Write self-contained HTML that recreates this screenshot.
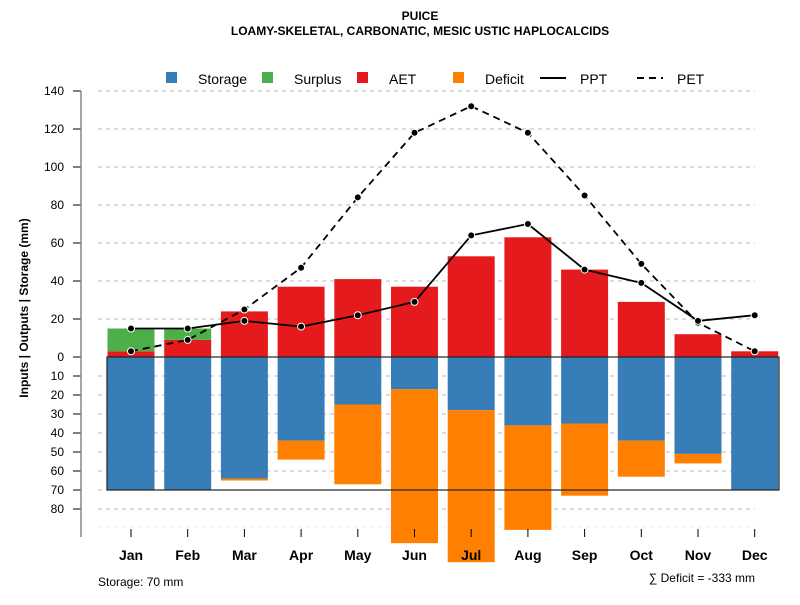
<!DOCTYPE html>
<html><head><meta charset="utf-8"><style>body{margin:0;background:#fff}svg{font-family:"Liberation Sans",sans-serif}</style></head>
<body>
<svg id="c" width="800" height="600">
<text x="420" y="20" text-anchor="middle" font-size="12" font-weight="bold">PUICE</text>
<text x="420" y="35" text-anchor="middle" font-size="12" font-weight="bold">LOAMY-SKELETAL, CARBONATIC, MESIC USTIC HAPLOCALCIDS</text>
<g id="grid"></g><g id="bars"></g><g id="lines"></g><g id="axes"></g>
<text x="28" y="308" transform="rotate(-90 28 308)" text-anchor="middle" font-size="12" font-weight="bold">Inputs | Outputs | Storage    (mm)</text>
<text x="98" y="586" font-size="12">Storage: 70 mm</text>
<text x="755" y="582" text-anchor="end" font-size="12">∑ Deficit = -333 mm</text>
<g font-size="14">
<rect x="166" y="72" width="11" height="11" fill="#377EB8"/><text x="198" y="84">Storage</text>
<rect x="262" y="72" width="11" height="11" fill="#4DAF4A"/><text x="294" y="84">Surplus</text>
<rect x="357" y="72" width="11" height="11" fill="#E41A1C"/><text x="389" y="84">AET</text>
<rect x="453" y="72" width="11" height="11" fill="#FF7F00"/><text x="485" y="84">Deficit</text>
<line x1="540" y1="78" x2="566" y2="78" stroke="#000" stroke-width="2"/><text x="580" y="84">PPT</text>
<line x1="637" y1="78" x2="663" y2="78" stroke="#000" stroke-width="2" stroke-dasharray="7,5"/><text x="677" y="84">PET</text>
</g>
</svg>
<script>
const months=["Jan","Feb","Mar","Apr","May","Jun","Jul","Aug","Sep","Oct","Nov","Dec"];
const ppt=[15,15,19,16,22,29,64,70,46,39,19,22];
const pet=[3,9,25,47,84,118,132,118,85,49,18,3];
const aet=[3,9,24,37,41,37,53,63,46,29,12,3];
const surplus=[12,6,0,0,0,0,0,0,0,0,0,0];
const storage=[70,70,64,44,25,17,28,36,35,44,51,70];
const deficit=[0,0,1,10,42,81,80,55,38,19,5,0];
const upTicks=[0,20,40,60,80,100,120,140];
const downTicks=[10,20,30,40,50,60,70,80];
const NS="http://www.w3.org/2000/svg";
const y=v=>357-v*1.9, x=i=>131+i*56.7;
function mk(t,a,p){const e=document.createElementNS(NS,t);for(const k in a)e.setAttribute(k,a[k]);document.getElementById(p).appendChild(e);return e;}
upTicks.forEach(v=>{if(v>0){const g=mk('line',{x1:98,x2:755,y1:y(v),y2:y(v),stroke:'#bbb','stroke-dasharray':'4,4'},'grid');}
 mk('line',{x1:73,x2:81,y1:y(v),y2:y(v),stroke:'#000'},'axes');
 const t=mk('text',{x:64,y:y(v)+4,'text-anchor':'end','font-size':12},'axes');t.textContent=v;});
downTicks.forEach(v=>{const g=mk('line',{x1:98,x2:755,y1:y(-v),y2:y(-v),stroke:'#bbb','stroke-dasharray':'4,4'},'grid');
 mk('line',{x1:73,x2:81,y1:y(-v),y2:y(-v),stroke:'#000'},'axes');
 const t=mk('text',{x:64,y:y(-v)+4,'text-anchor':'end','font-size':12},'axes');t.textContent=v;});
mk('line',{x1:98,x2:755,y1:527,y2:527,stroke:'#eee','stroke-dasharray':'4,4'},'grid');
mk('line',{x1:81,x2:81,y1:91,y2:537,stroke:'#888','stroke-width':1.5},'axes');
const bw=47;
months.forEach((m,i)=>{const cx=x(i);
 let r=mk('rect',{x:cx-bw/2,y:y(0),width:bw,height:storage[i]*1.9,fill:'#377EB8'},'bars');
 if(deficit[i]>0){r=mk('rect',{x:cx-bw/2,y:y(-storage[i]),width:bw,height:deficit[i]*1.9,fill:'#FF7F00'},'bars');}
 r=mk('rect',{x:cx-bw/2,y:y(aet[i]),width:bw,height:aet[i]*1.9,fill:'#E41A1C'},'bars');
 if(surplus[i]>0){r=mk('rect',{x:cx-bw/2,y:y(aet[i]+surplus[i]),width:bw,height:surplus[i]*1.9,fill:'#4DAF4A'},'bars');}
 mk('line',{x1:cx,x2:cx,y1:529,y2:537,stroke:'#000'},'axes');
 const t=mk('text',{x:cx,y:560,'text-anchor':'middle','font-size':14,'font-weight':'bold'},'axes');t.textContent=m;});
mk('rect',{x:107,y:357,width:672,height:133,fill:'none',stroke:'#222','stroke-width':1.2},'bars');
function line(d,dash,name){const p=mk('polyline',{points:d.map((v,i)=>x(i)+','+y(v)).join(' '),fill:'none',stroke:'#000','stroke-width':1.8,'stroke-dasharray':dash},'lines');
 d.forEach((v,i)=>{const c=mk('circle',{cx:x(i),cy:y(v),r:3.5,fill:'#000',stroke:'#fff','stroke-width':1},'lines');});}
line(pet,'7,5','pet-line');line(ppt,'none','ppt-line');
</script>
</body></html>
